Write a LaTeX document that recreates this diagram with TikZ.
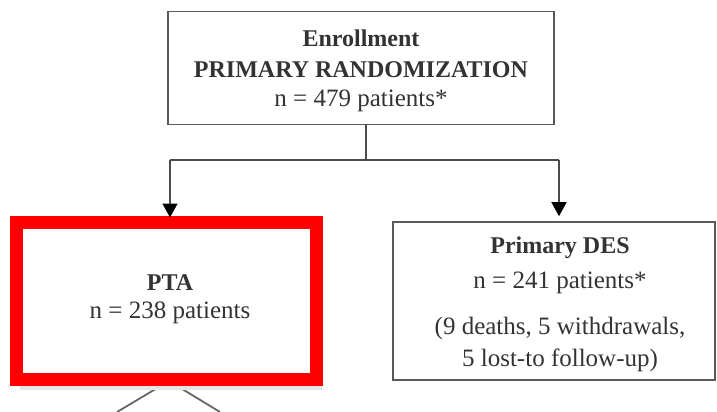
\documentclass[tikz,border=0pt]{standalone}
\usepackage{fontspec}
\setmainfont{Liberation Serif}
\usetikzlibrary{arrows.meta}
\begin{document}
\begin{tikzpicture}[x=1pt,y=-1pt,
  box/.style={draw=black!65, line width=1.6pt, fill=white, inner sep=0pt},
  txt/.style={font=\fontsize{25}{30}\selectfont, text=black!80, inner sep=0pt},
  btxt/.style={font=\fontsize{24}{28}\selectfont\bfseries, text=black!80, inner sep=0pt},
  conn/.style={draw=black!70, line width=1.6pt},
  arr/.style={conn, -{Triangle[width=15pt,length=14pt,fill=black,color=black]}, shorten >=5pt},
  diag/.style={draw=black!60, line width=1.8pt}]
\useasboundingbox (0,0) rectangle (717,412);
% top box
\node[box, minimum width=386pt, minimum height=113pt] (top) at (361,68) {};
\node[btxt] (t1) at (361,38) {Enrollment};
\node[btxt] (t2) at (361,70) {PRIMARY RANDOMIZATION};
\node[txt] (t3) at (361,101) {n = 479 patients*};
% split
\coordinate (split) at (366,160);
\coordinate (lsplit) at (170,160);
\coordinate (rsplit) at (559,160);
% PTA lower lines
\coordinate (dl) at (117,412);
\coordinate (dr) at (220,412);
\coordinate (apex) at (169,381);
\draw[diag] (apex) -- (dl);
\draw[diag] (apex) -- (dr);
% shadow and PTA box
\fill[black!10] (20,228) rectangle (322,390);
\node[box, draw=red, line width=13pt, minimum width=300pt, minimum height=157pt, outer sep=0pt] (pta) at (166.5,301) {};
\node[btxt] (p1) at (170,283) {PTA};
\node[txt] (p2) at (170,313) {n = 238 patients};
% DES box
\node[box, minimum width=322pt, minimum height=158pt] (des) at (554,301) {};
\node[btxt] (d1) at (560,248) {Primary DES};
\node[txt] (d2) at (560,283) {n = 241 patients*};
\node[txt] (d3) at (560,328) {(9 deaths, 5 withdrawals,};
\node[txt] (d4) at (560,360) {5 lost-to follow-up)};
% connectors
\draw[conn] (top.south -| split) -- (split);
\draw[conn] (lsplit) -- (rsplit);
\draw[arr] (lsplit) -- (lsplit |- pta.north);
\draw[arr] (rsplit) -- (rsplit |- des.north);
\end{tikzpicture}
\end{document}
